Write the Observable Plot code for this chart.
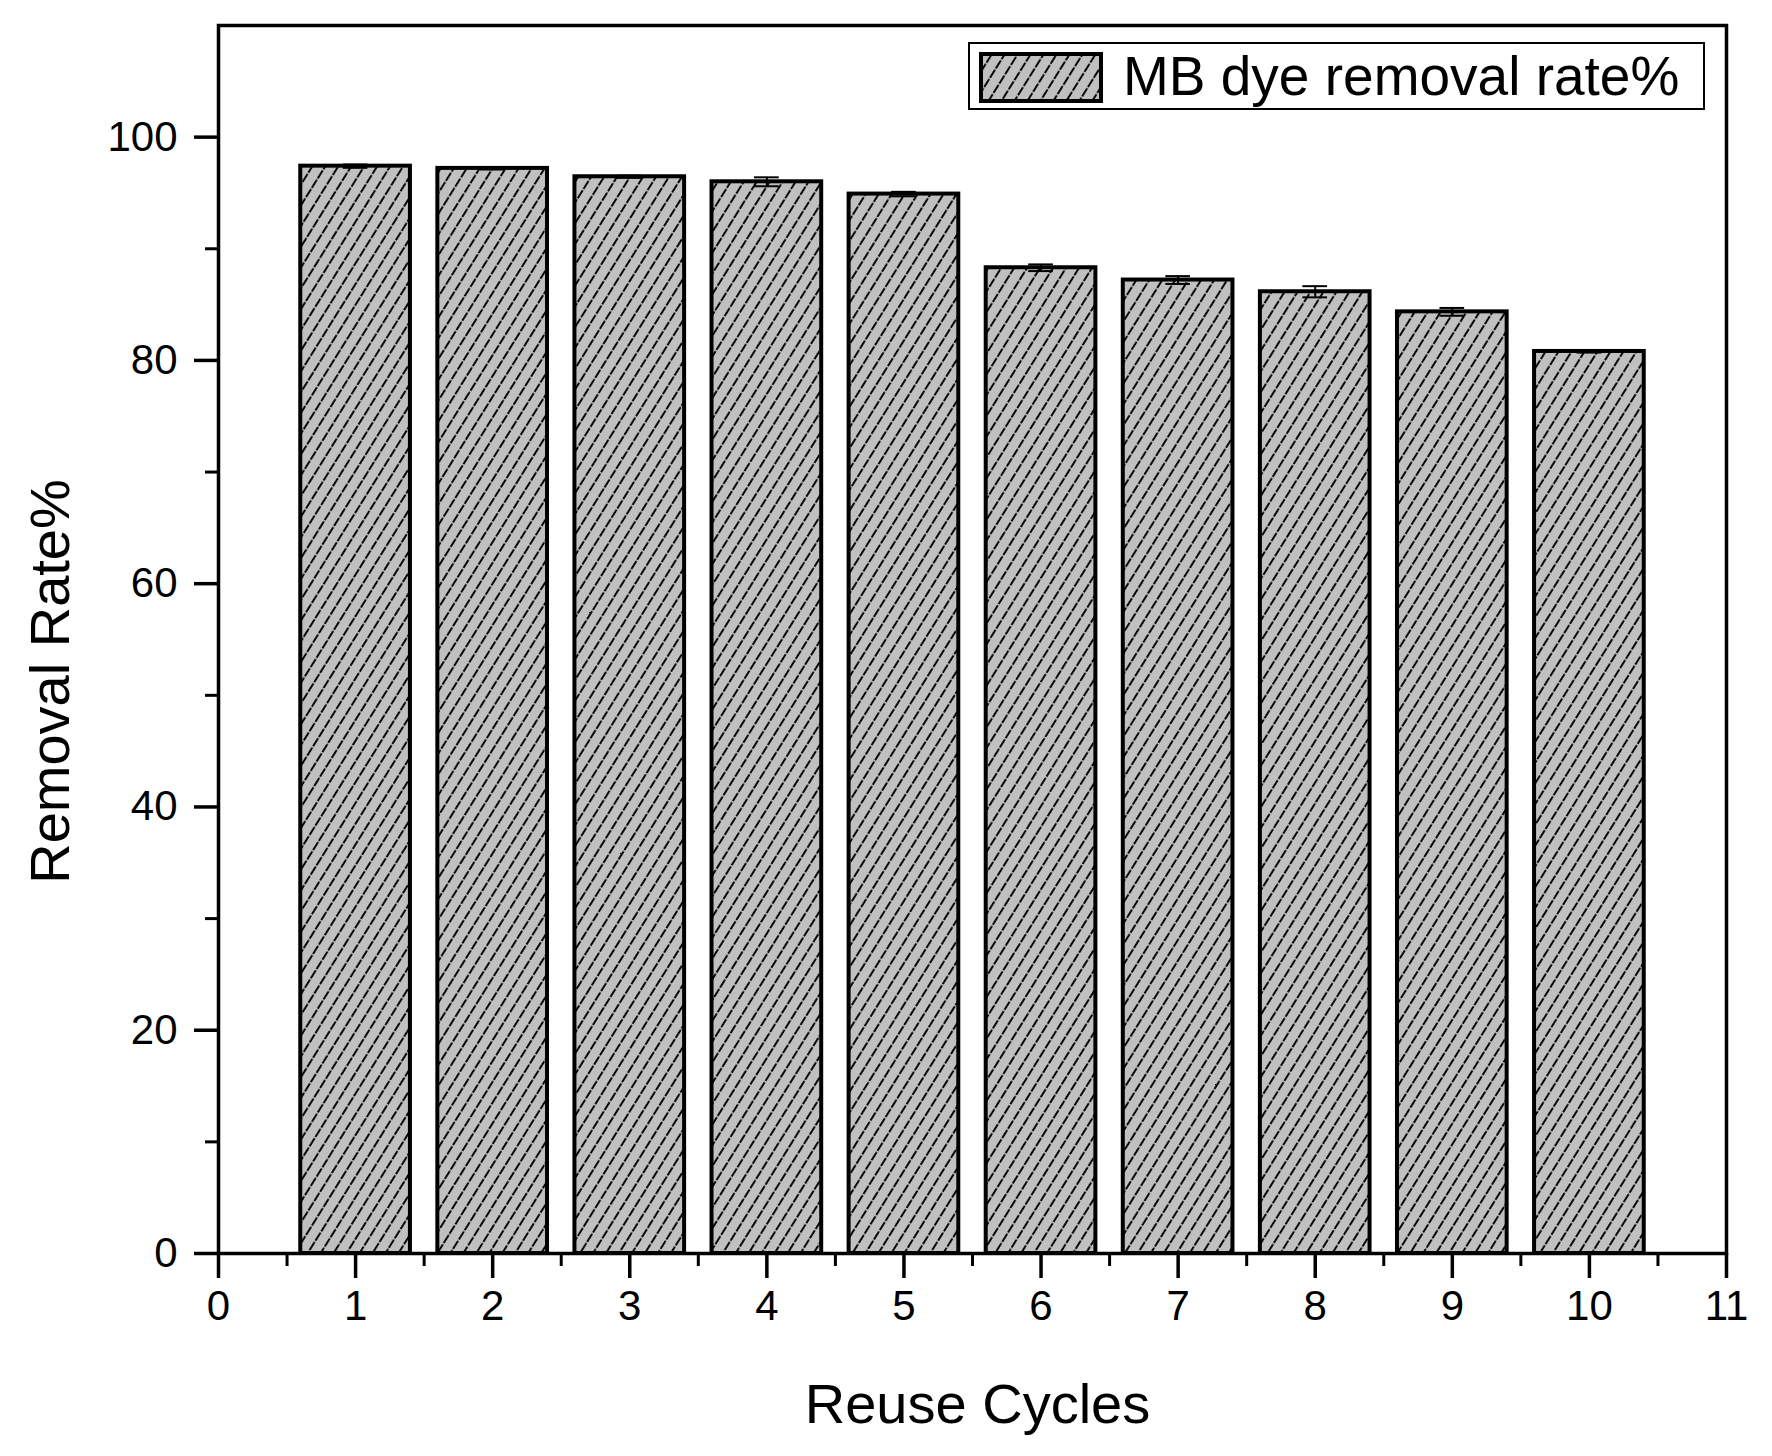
<!DOCTYPE html>
<html>
<head>
<meta charset="utf-8">
<script src="https://cdn.jsdelivr.net/npm/d3@7"></script>
<script src="https://cdn.jsdelivr.net/npm/@observablehq/plot@0.6"></script>
<style>
  html, body { margin: 0; padding: 0; background: #fff; }
  #wrap { position: relative; width: 1772px; height: 1456px; font-family: "Liberation Sans", Arial, sans-serif; }
  #legend { position: absolute; left: 968px; top: 42px; width: 737px; height: 68px; border: 2px solid #000; background: #fff; box-sizing: border-box; }
  #legend svg { position: absolute; left: 9px; top: 8px; }
  #legend span { position: absolute; left: 153px; top: 2px; font-size: 55px; line-height: 60px; color: #000; white-space: nowrap; }
</style>
</head>
<body>
<div id="wrap"></div>
<script>
const cycles = [1, 2, 3, 4, 5, 6, 7, 8, 9, 10];
const removal = [97.4, 97.2, 96.45, 96.0, 94.9, 88.3, 87.2, 86.15, 84.35, 80.8];
const errors = [0.15, 0.1, 0.1, 0.4, 0.2, 0.3, 0.35, 0.5, 0.35, 0.1];
const xTicks = [0, 1, 2, 3, 4, 5, 6, 7, 8, 9, 10, 11];
const xMinorTicks = [0.5, 1.5, 2.5, 3.5, 4.5, 5.5, 6.5, 7.5, 8.5, 9.5, 10.5];
const yTicks = [0, 20, 40, 60, 80, 100];
const yMinorTicks = [10, 30, 50, 70, 90];
const xLabel = "Reuse Cycles";
const yLabel = "Removal Rate%";
const seriesName = "MB dye removal rate%";

const data = cycles.map((c, i) => ({c, v: removal[i], e: errors[i]}));
const halfWidth = 0.4;
const capHalf = 0.09;

const chart = Plot.plot({
  width: 1772,
  height: 1456,
  marginLeft: 218,
  marginRight: 46,
  marginTop: 25,
  marginBottom: 203,
  style: {fontFamily: "'Liberation Sans', Arial, sans-serif", background: "#fff", color: "#000"},
  x: {domain: [0, 11], axis: null},
  y: {domain: [0, 110], axis: null},
  marks: [
    Plot.rectY(data, {
      x1: d => d.c - halfWidth, x2: d => d.c + halfWidth,
      y1: d => 0, y2: d => d.v,
      fill: "url(#hatch)", stroke: "#000", strokeWidth: 4
    }),
    Plot.ruleX(data, {x: "c", y1: d => d.v - d.e, y2: d => d.v + d.e, stroke: "#000", strokeWidth: 2}),
    Plot.ruleY(data, {y: d => d.v + d.e, x1: d => d.c - capHalf, x2: d => d.c + capHalf, stroke: "#000", strokeWidth: 2}),
    Plot.ruleY(data, {y: d => d.v - d.e, x1: d => d.c - capHalf, x2: d => d.c + capHalf, stroke: "#000", strokeWidth: 2}),
    Plot.frame({stroke: "#000", strokeWidth: 3.5}),
    Plot.axisX(xTicks, {anchor: "bottom", tickSize: 25, tickPadding: 12, fontSize: 42, strokeWidth: 3.5, label: null, tickFormat: d => String(d)}),
    Plot.axisX(xMinorTicks, {anchor: "bottom", tickSize: 13, strokeWidth: 3, label: null, tickFormat: () => ""}),
    Plot.axisY(yTicks, {anchor: "left", tickSize: 24, tickPadding: 17, fontSize: 42, strokeWidth: 3.5, label: null, tickFormat: d => String(d)}),
    Plot.axisY(yMinorTicks, {anchor: "left", tickSize: 13, strokeWidth: 3, label: null, tickFormat: () => ""}),
    Plot.text([yLabel], {frameAnchor: "left", textAnchor: "middle", lineAnchor: "middle", dx: -167, dy: 42, rotate: -90, fontSize: 56, fill: "#000"}),
    Plot.text([xLabel], {frameAnchor: "bottom", textAnchor: "middle", lineAnchor: "middle", dx: 5, dy: 152, fontSize: 56, fill: "#000"})
  ]
});

const ns = "http://www.w3.org/2000/svg";
function makeDefs(id) {
  const defs = document.createElementNS(ns, "defs");
  const pat = document.createElementNS(ns, "pattern");
  pat.setAttribute("id", id);
  pat.setAttribute("patternUnits", "userSpaceOnUse");
  pat.setAttribute("width", "11");
  pat.setAttribute("height", "11");
  pat.setAttribute("patternTransform", "rotate(32)");
  const bg = document.createElementNS(ns, "rect");
  bg.setAttribute("x", "-1"); bg.setAttribute("y", "-1");
  bg.setAttribute("width", "13"); bg.setAttribute("height", "13");
  bg.setAttribute("fill", "#c0c0c0");
  const ln = document.createElementNS(ns, "line");
  ln.setAttribute("x1", "1"); ln.setAttribute("y1", "-1");
  ln.setAttribute("x2", "1"); ln.setAttribute("y2", "12");
  ln.setAttribute("stroke", "#000");
  ln.setAttribute("stroke-width", "1.9");
  ln.setAttribute("stroke-dasharray", "6 1.5");
  pat.appendChild(bg); pat.appendChild(ln);
  defs.appendChild(pat);
  return defs;
}
chart.insertBefore(makeDefs("hatch"), chart.firstChild);

const wrap = document.getElementById("wrap");
wrap.appendChild(chart);

const legend = document.createElement("div");
legend.id = "legend";
const sw = d3.create("svg").attr("width", 124).attr("height", 51);
sw.node().appendChild(makeDefs("hatchLegend"));
sw.append("rect").attr("x", 2).attr("y", 2).attr("width", 120).attr("height", 47)
  .attr("fill", "url(#hatchLegend)").attr("stroke", "#000").attr("stroke-width", 4);
legend.appendChild(sw.node());
const span = document.createElement("span");
span.textContent = seriesName;
legend.appendChild(span);
wrap.appendChild(legend);
</script>
</body>
</html>
